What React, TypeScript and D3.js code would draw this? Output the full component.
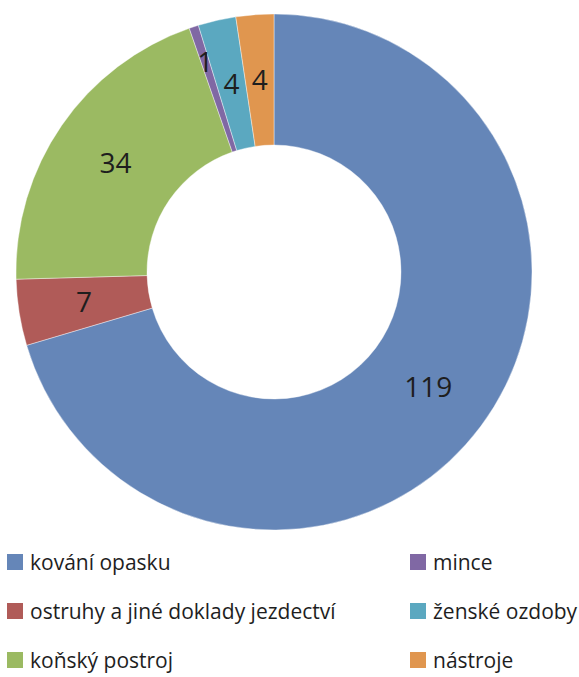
import React from "react";
import * as d3 from "d3";

const categories = [
  "kování opasku",
  "ostruhy a jiné doklady jezdectví",
  "koňský postroj",
  "mince",
  "ženské ozdoby",
  "nástroje",
];
const values = [119, 7, 34, 1, 4, 4];
const colors = ["#6586b8", "#b05b58", "#9bba62", "#8068a4", "#5ba8c0", "#e0964f"];
const labelRadiusOverride: Record<number, number> = { 3: 221 };

export default function App() {
  const W = 579, H = 677;
  const cx = 274, cy = 272, rOuter = 258, rInner = 127;
  const pie = d3.pie<number>().sort(null).value((d) => d);
  const arcs = pie(values);
  const arc = d3.arc<d3.PieArcDatum<number>>().innerRadius(rInner).outerRadius(rOuter);
  const font = "'Open Sans', 'Noto Sans', sans-serif";
  const legendRows = [570, 619, 668];
  const legendCols = [7, 410];
  return (
    <svg width={W} height={H} style={{ position: "absolute", left: 0, top: 0 }}>
      <rect width={W} height={H} fill="#fff" />
      <g transform={`translate(${cx},${cy})`}>
        {arcs.map((a, i) => (
          <path key={i} d={arc(a) || ""} fill={colors[i]} stroke="#fff" strokeOpacity={0.5} strokeWidth={0.8} />
        ))}
        {arcs.map((a, i) => {
          const mid = (a.startAngle + a.endAngle) / 2;
          const r = labelRadiusOverride[i] ?? (rInner + rOuter) / 2;
          const x = Math.sin(mid) * r;
          const y = -Math.cos(mid) * r;
          return (
            <text key={i} x={x} y={y} dy="0.36em" textAnchor="middle" fontFamily={font} fontSize={28} fontWeight={500} fill="#1e1e1e">
              {values[i]}
            </text>
          );
        })}
      </g>
      {categories.map((c, i) => {
        const col = Math.floor(i / 3);
        const row = i % 3;
        const x = legendCols[col];
        const y = legendRows[row];
        return (
          <g key={c}>
            <rect x={x} y={y - 16} width={16} height={16} fill={colors[i]} />
            <text x={x + 23} y={y} fontFamily={font} fontSize={21} fontWeight={500} fill="#1e1e1e">
              {c}
            </text>
          </g>
        );
      })}
    </svg>
  );
}
